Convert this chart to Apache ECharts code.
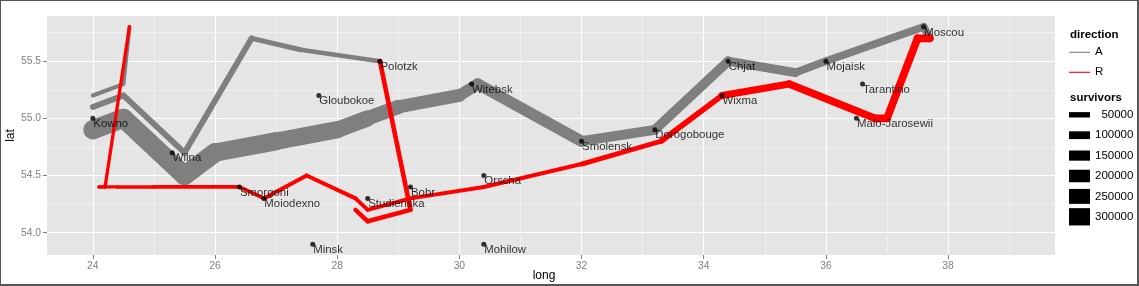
<!DOCTYPE html>
<html><head><meta charset="utf-8">
<script src="https://cdn.jsdelivr.net/npm/echarts@6/dist/echarts.min.js"></script>
<style>
html,body{margin:0;padding:0;background:#fff;}
#wrap{position:relative;width:1139px;height:286px;}
#chart{position:absolute;left:0;top:0;width:1139px;height:286px;}
#frame{position:absolute;left:0;top:0;width:1139px;height:286px;box-sizing:border-box;border-style:solid;border-color:#555;border-width:1px 2px 2px 1px;pointer-events:none;}
</style></head>
<body><div id="wrap"><div id="chart"></div><div id="frame"></div></div>
<script>
// ---- Troop movements (Minard) ----
const troopLong = [24.0,24.5,25.5,26.0,27.0,28.0,28.5,29.0,30.0,30.3,32.0,33.2,34.4,35.5,36.0,37.6,
  37.7,37.5,37.0,36.8,35.4,34.3,33.3,32.0,30.4,29.2,28.5,28.3,27.5,26.8,26.4,25.0,24.4,24.2,24.1,
  24.0,24.5,25.5,26.6,27.4,28.7,29.2,28.5,28.3,
  24.0,24.5,24.6,24.6,24.2,24.1];
const troopLat = [54.9,55.0,54.5,54.7,54.8,54.9,55.0,55.1,55.2,55.3,54.8,54.9,55.5,55.4,55.5,55.8,
  55.7,55.7,55.0,55.0,55.3,55.2,54.8,54.6,54.4,54.3,54.2,54.3,54.5,54.3,54.4,54.4,54.4,54.4,54.4,
  55.1,55.2,54.7,55.7,55.6,55.5,54.2,54.1,54.2,
  55.2,55.3,55.8,55.8,54.4,54.4];
const troopSurvivors = [340000,340000,340000,320000,300000,280000,240000,210000,180000,175000,145000,140000,127100,100000,100000,100000,
  100000,98000,97000,96000,87000,55000,37000,24000,20000,20000,20000,20000,20000,12000,14000,8000,4000,4000,4000,
  60000,60000,60000,40000,33000,33000,30000,30000,28000,
  22000,22000,6000,6000,6000,6000];
const troopDirection = ['A','A','A','A','A','A','A','A','A','A','A','A','A','A','A','A',
  'R','R','R','R','R','R','R','R','R','R','R','R','R','R','R','R','R','R','R',
  'A','A','A','A','A','R','R','R','R',
  'A','A','R','R','R','R'];
const troopGroup = [1,1,1,1,1,1,1,1,1,1,1,1,1,1,1,1,
  1,1,1,1,1,1,1,1,1,1,1,1,1,1,1,1,1,1,1,
  2,2,2,2,2,2,2,2,2,
  3,3,3,3,3,3];

// ---- Cities ----
const cityLong = [24.0,25.3,26.4,26.8,27.7,27.6,28.5,28.7,29.2,30.2,30.4,30.4,32.0,33.2,34.3,34.4,36.0,37.6,36.6,36.5];
const cityLat  = [55.0,54.7,54.4,54.3,55.2,53.9,54.3,55.5,54.4,55.3,54.5,53.9,54.8,54.9,55.2,55.5,55.5,55.8,55.3,55.0];
const cityName = ['Kowno','Wilna','Smorgoni','Moiodexno','Gloubokoe','Minsk','Studienska','Polotzk','Bobr','Witebsk',
  'Orscha','Mohilow','Smolensk','Dorogobouge','Wixma','Chjat','Mojaisk','Moscou','Tarantino','Malo-Jarosewii'];

// ---- Axes / legend ----
const xTicks = [24,26,28,30,32,34,36,38];
const xMinor = [25,27,29,31,33,35,37,39];
const yTicks = [54.0,54.5,55.0,55.5];
const yMinor = [54.25,54.75,55.25,55.75];
const directionNames = ['A','R'];
const survivorBreaks = [50000,100000,150000,200000,250000,300000];

const FONT = 'Liberation Sans, Arial, sans-serif';
const dirColor = {A:'#7f7f7f', R:'#ff0000'};
const sMin = Math.min.apply(null, troopSurvivors), sMax = Math.max.apply(null, troopSurvivors);
function widthOf(v){ return 3.2 * (1 + 5 * (v - sMin) / (sMax - sMin)); }

function segmentsFor(dir){
  const out = [];
  for (let i = 0; i < troopLong.length - 1; i++) {
    if (troopGroup[i] !== troopGroup[i+1]) continue;
    if (troopDirection[i] !== dir) continue;
    out.push([troopLong[i], troopLat[i], troopLong[i+1], troopLat[i+1], troopSurvivors[i]]);
  }
  return out;
}
function segSeries(dir, extra){
  return Object.assign({
    type:'custom', name:dir, z:2, silent:true,
    itemStyle:{color:dirColor[dir]},
    encode:{x:[0,2], y:[1,3]},
    data:segmentsFor(dir),
    renderItem:function(params, api){
      const p1 = api.coord([api.value(0), api.value(1)]);
      const p2 = api.coord([api.value(2), api.value(3)]);
      return {type:'line', shape:{x1:p1[0], y1:p1[1], x2:p2[0], y2:p2[1]},
        style:{stroke:dirColor[dir], lineWidth:widthOf(api.value(4)), lineCap:'round', lineJoin:'round'}};
    }
  }, extra || {});
}

const gridLines = [];
xMinor.forEach(v => gridLines.push({xAxis:v, lineStyle:{color:'#f2f2f2', width:0.8, type:'solid'}}));
yMinor.forEach(v => gridLines.push({yAxis:v, lineStyle:{color:'#f2f2f2', width:0.8, type:'solid'}}));
xTicks.forEach(v => gridLines.push({xAxis:v, lineStyle:{color:'#ffffff', width:1.1, type:'solid'}}));
yTicks.forEach(v => gridLines.push({yAxis:v, lineStyle:{color:'#ffffff', width:1.1, type:'solid'}}));

const series = [
  segSeries('A', {markLine:{silent:true, z:1, symbol:['none','none'], animation:false,
    label:{show:false}, emphasis:{disabled:true}, data:gridLines}}),
  segSeries('R'),
  {
    type:'scatter', name:'cities', z:3, silent:true,
    symbol:'circle', symbolSize:5, itemStyle:{color:'#000'},
    data: cityLong.map((x,i) => ({value:[x, cityLat[i]], name:cityName[i]})),
    label:{show:true, formatter:'{b}', position:[3,2.5], align:'left', verticalAlign:'top',
      fontSize:11.4, color:'#000', fontFamily:FONT}
  }
];
survivorBreaks.forEach(b => series.push({type:'custom', name:String(b), data:[], itemStyle:{color:'#000'}, renderItem:function(){return null;}}));

const chart = echarts.init(document.getElementById('chart'), null, {renderer:'canvas'});
chart.setOption({
  animation:false,
  textStyle:{fontFamily:FONT},
  title:[
    {text:'direction', left:1070, top:28.5, padding:0, textStyle:{fontSize:11.5, fontWeight:'bold', color:'#000', fontFamily:FONT}},
    {text:'survivors', left:1070, top:92, padding:0, textStyle:{fontSize:11.5, fontWeight:'bold', color:'#000', fontFamily:FONT}}
  ],
  legend:[
    {orient:'vertical', left:1069, top:42.3, padding:0, itemGap:0, itemWidth:21, itemHeight:20,
      selectedMode:false, symbolKeepAspect:true,
      data: directionNames.map(n => ({name:n, icon:'path://M0,0H21V1.1H0Z'})),
      textStyle:{fontSize:11.5, lineHeight:20, color:'#000', fontFamily:FONT}},
    {orient:'vertical', left:1069, top:104.8, padding:0, itemGap:0.4, itemWidth:21, itemHeight:20,
      selectedMode:false, symbolKeepAspect:true,
      data: survivorBreaks.map(b => ({name:String(b),
        icon:'path://M0,0H21V' + widthOf(b).toFixed(2) + 'H0Z',
        textStyle: String(b).length < 6 ? {padding:[0,0,0,6.4]} : {}})),
      textStyle:{fontSize:11.5, lineHeight:20, color:'#000', fontFamily:FONT}}
  ],
  grid:{left:47, top:16, width:1008, height:239, show:true, backgroundColor:'#e5e5e5', borderWidth:0, containLabel:false, outerBoundsMode:'none'},
  xAxis:{type:'value', min:23.25, max:39.75,
    name:'long', nameLocation:'middle', nameGap:15, nameMoveOverlap:false,
    nameTextStyle:{fontSize:12, color:'#000', fontFamily:FONT, padding:[0,14,0,0]},
    axisLine:{show:false},
    axisTick:{show:true, length:4, lineStyle:{color:'#7f7f7f', width:1}, customValues:xTicks},
    axisLabel:{show:true, customValues:xTicks, color:'#7f7f7f', fontSize:10.3, margin:6, fontFamily:FONT,
      formatter:function(v){return String(v);}},
    splitLine:{show:false}, minorSplitLine:{show:false}},
  yAxis:{type:'value', min:53.805, max:55.895,
    name:'lat', nameLocation:'middle', nameGap:30, nameRotate:90, nameMoveOverlap:false,
    nameTextStyle:{fontSize:12, color:'#000', fontFamily:FONT},
    axisLine:{show:false},
    axisTick:{show:true, length:4, lineStyle:{color:'#7f7f7f', width:1}, customValues:yTicks},
    axisLabel:{show:true, customValues:yTicks, color:'#7f7f7f', fontSize:10.3, margin:6, fontFamily:FONT,
      formatter:function(v){return v.toFixed(1);}},
    splitLine:{show:false}, minorSplitLine:{show:false}},
  series: series
});
</script>
</body></html>
